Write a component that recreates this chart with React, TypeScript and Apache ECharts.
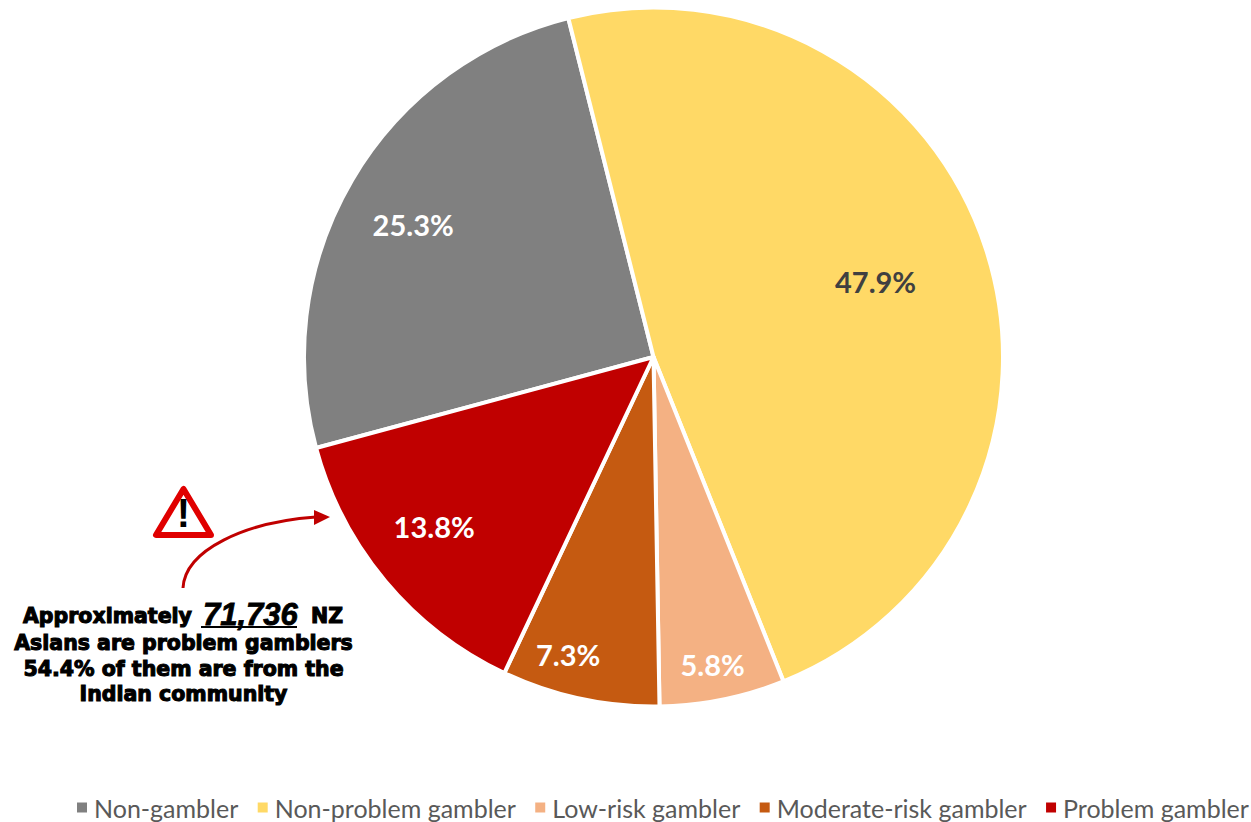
import React, { useEffect, useRef } from "react";
import * as echarts from "echarts";

const categories = ["Non-gambler", "Non-problem gambler", "Low-risk gambler", "Moderate-risk gambler", "Problem gambler"];
const values = [25.3, 47.9, 5.8, 7.3, 13.8];
const colors = ["#808080", "#FFD966", "#F4B183", "#C55A11", "#C00000"];
const labelColors = ["#ffffff", "#404040", "#ffffff", "#ffffff", "#ffffff"];
const labelShiftX = [-87, 53, 24, -48, -83];
const labelShiftY = [-43, -21, 133, 124, 55];
const noteLines = ["Asians are problem gamblers", "54.4% of them are from the", "Indian community"];

const noteFont = { fontFamily: "DejaVu Sans", fontWeight: 700, fontSize: 20.5, fill: "#000", stroke: "#000", lineWidth: 1.1 };

export default function App() {
  const ref = useRef<HTMLDivElement>(null);
  useEffect(() => {
    document.body.style.margin = "0";
    document.body.style.overflow = "hidden";
    const chart = echarts.init(ref.current!, null, { renderer: "svg" });
    chart.setOption({
      animation: false,
      backgroundColor: "#fff",
      legend: {
        left: 75, top: 795, width: 1400, itemWidth: 12, itemHeight: 12, itemGap: 17.4,
        icon: "rect", padding: 0,
        textStyle: { fontFamily: "Lato", fontSize: 25, color: "#595959", padding: [0, 0, 0, 1] },
        data: categories,
      },
      series: [{
        type: "pie",
        center: [653.5, 357],
        radius: [0, 349.5],
        startAngle: 195.1,
        clockwise: true,
        avoidLabelOverlap: false,
        itemStyle: { borderColor: "#fff", borderWidth: 4 },
        label: {
          position: "inside",
          formatter: (p: any) => p.value.toFixed(1) + "%",
          fontFamily: "Lato", fontWeight: 700, fontSize: 29,
        },
        labelLine: { show: false },
        labelLayout: (p: any) => ({ dx: labelShiftX[p.dataIndex], dy: labelShiftY[p.dataIndex] }),
        data: categories.map((name, i) => ({
          name, value: values[i],
          itemStyle: { color: colors[i] },
          label: { color: labelColors[i] },
        })),
      }],
      graphic: [
        { type: "bezierCurve", shape: { x1: 183, y1: 588, cpx1: 185, cpy1: 550, cpx2: 245, cpy2: 522, x2: 316, y2: 517 }, style: { stroke: "#C00000", lineWidth: 3, fill: "none" } },
        { type: "polygon", shape: { points: [[330, 517], [314, 510], [314, 525]] }, style: { fill: "#C00000" } },
        { type: "polygon", shape: { points: [[183.5, 489], [156, 535], [211, 535]] }, style: { fill: "#fff", stroke: "#E00000", lineWidth: 6, lineJoin: "round" } },
        { type: "text", x: 183.5, y: 513, style: { text: "!", align: "center", verticalAlign: "middle", fontFamily: "Liberation Sans", fontWeight: 700, fontSize: 40, fill: "#000" } },
        { type: "text", x: 23, y: 616, style: { text: "Approximately", verticalAlign: "middle", ...noteFont } },
        { type: "text", x: 203, y: 614, style: { text: "71,736", verticalAlign: "middle", ...noteFont, fontFamily: "Liberation Sans", fontStyle: "italic", fontSize: 31, lineWidth: 0.8 } },
        { type: "line", shape: { x1: 201, y1: 627, x2: 297, y2: 627 }, style: { stroke: "#000", lineWidth: 2 } },
        { type: "text", x: 311, y: 616, style: { text: "NZ", verticalAlign: "middle", ...noteFont } },
        ...noteLines.map((t, i) => ({
          type: "text", x: 183.5, y: 643 + i * 25.5,
          style: { text: t, align: "center", verticalAlign: "middle", ...noteFont },
        })),
      ],
    });
    return () => chart.dispose();
  }, []);
  return <div ref={ref} style={{ width: 1251, height: 822 }} />;
}
